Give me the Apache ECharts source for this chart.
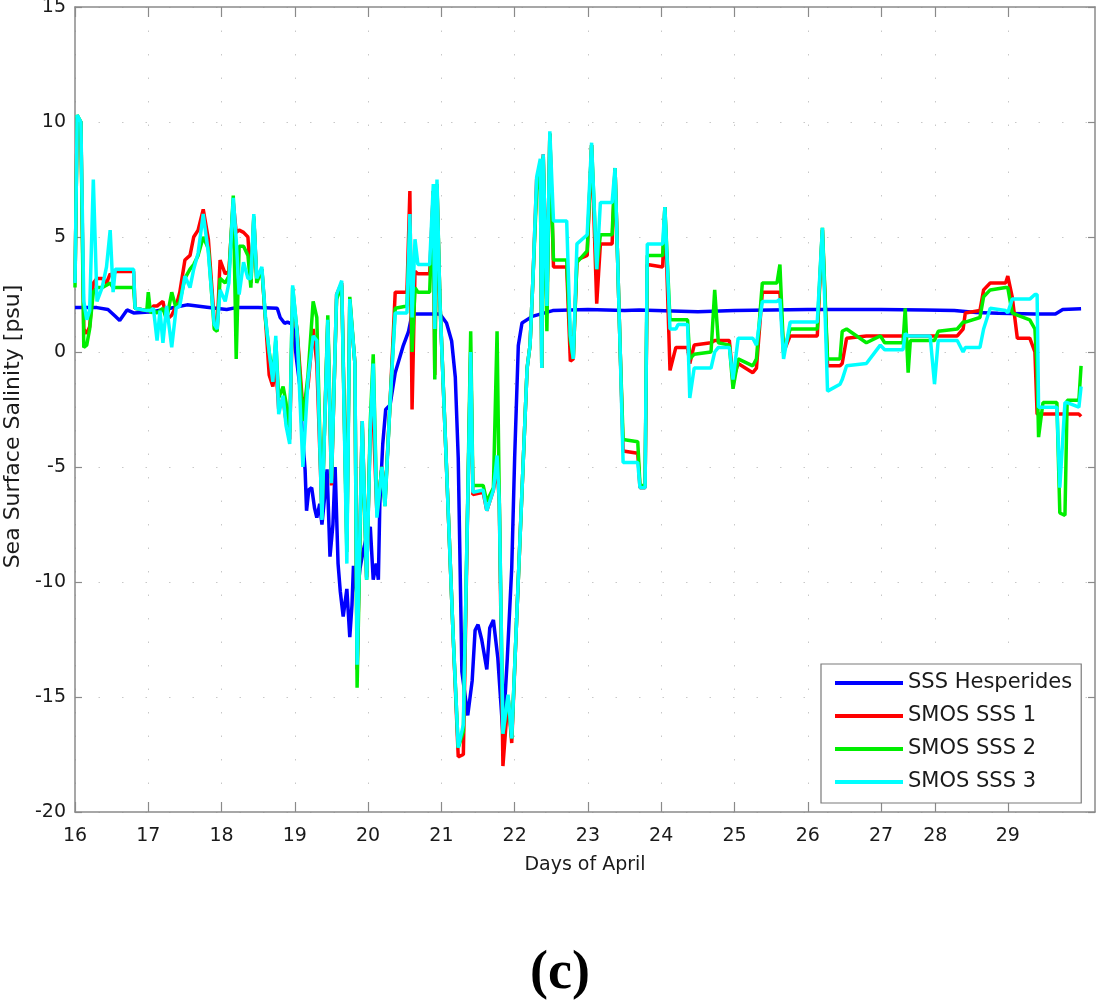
<!DOCTYPE html>
<html>
<head>
<meta charset="utf-8">
<script src="https://cdn.jsdelivr.net/npm/echarts@6/dist/echarts.min.js"></script>
<style>
html,body{margin:0;padding:0;background:#fff;}
#chart{width:1097px;height:1000px;}
</style>
</head>
<body>
<div id="chart"></div>
<script>
// ---- Data (days of April, salinity anomaly in psu) ----
const xTickValues = [16,17,18,19,20,21,22,23,24,25,26,27,27.74,28.73];
const xTickLabels = ['16','17','18','19','20','21','22','23','24','25','26','27','28','29'];

const hespDays = [16.00,16.30,16.45,16.55,16.61,16.66,16.71,16.80,17.06,17.30,17.53,17.80,18.07,18.20,18.50,18.76,18.80,18.86,18.90,18.97,
  19.03,19.07,19.10,19.14,19.16,19.19,19.23,19.27,19.30,19.34,19.37,19.41,19.44,19.48,19.52,19.55,19.59,19.62,19.66,19.71,19.75,19.78,19.80,19.85,19.89,19.93,19.98,20.03,20.07,20.11,20.14,20.16,20.20,20.24,20.30,20.37,20.48,20.55,20.60,20.98,
  21.07,21.14,21.19,21.23,21.28,21.36,21.42,21.46,21.50,21.55,21.62,21.66,21.71,21.77,21.84,21.90,21.96,22.00,22.05,22.10,22.24,22.52,
  23.00,23.50,23.70,24.50,25.00,26.00,27.00,27.60,28.00,28.30,28.60,29.10,29.38,29.48,29.73];
const hespSss = [1.93,1.93,1.85,1.55,1.37,1.60,1.83,1.70,1.75,1.90,2.05,1.95,1.85,1.93,1.93,1.90,1.50,1.25,1.30,1.20,
  -0.50,-1.50,-3.5,-5.1,-6.9,-6.0,-5.9,-6.8,-7.2,-6.6,-7.5,-6.2,-5.1,-8.9,-7.5,-5.0,-9.2,-10.4,-11.5,-10.3,-12.4,-11.0,-9.3,-10.6,-9.4,-8.7,-8.0,-7.6,-9.9,-9.2,-9.9,-6.6,-4.0,-2.5,-2.3,-0.9,0.28,0.87,1.65,1.65,
  1.26,0.48,-1.1,-4.6,-13.9,-15.8,-14.3,-12.1,-11.85,-12.5,-13.8,-12.0,-11.65,-13.3,-16.6,-13.3,-9.4,-4.6,0.28,1.26,1.55,1.80,
  1.85,1.80,1.83,1.75,1.80,1.85,1.85,1.83,1.80,1.72,1.68,1.65,1.65,1.85,1.88];

const smosDays = [16.00,16.03,16.08,16.12,16.16,16.20,16.25,16.30,16.37,16.43,16.48,16.52,16.55,16.80,16.82,16.98,17.00,17.03,17.07,17.12,17.16,17.20,17.25,17.32,17.38,17.43,17.50,17.57,17.62,17.68,17.75,17.82,17.90,17.94,17.98,18.05,18.10,18.16,18.20,18.24,18.30,18.36,18.40,18.44,18.48,18.55,18.60,18.65,18.70,18.74,18.78,18.84,18.88,18.93,18.97,
  19.03,19.11,19.18,19.25,19.30,19.37,19.45,19.50,19.57,19.64,19.71,19.75,19.82,19.85,19.92,19.98,20.03,20.07,20.12,20.19,20.23,20.30,20.37,20.53,20.57,20.60,20.64,20.68,20.84,20.89,20.91,20.94,20.98,
  21.16,21.23,21.30,21.36,21.40,21.43,21.57,21.62,21.71,21.76,21.79,21.84,21.91,21.96,22.03,22.17,22.21,22.25,22.30,22.35,22.37,22.39,22.44,22.48,22.53,22.71,22.76,22.80,22.85,22.99,
  23.05,23.12,23.17,23.33,23.37,23.44,23.48,23.68,23.71,23.78,23.81,24.02,24.05,24.12,24.20,24.23,24.36,24.39,24.45,24.68,24.73,24.78,24.93,24.98,
  25.05,25.25,25.30,25.38,25.58,25.62,25.67,25.76,26.13,26.20,26.27,26.44,26.47,26.53,26.80,26.99,27.05,27.30,27.33,27.37,27.40,27.67,27.73,27.78,
  28.04,28.12,28.15,28.35,28.40,28.49,28.70,28.73,28.79,28.86,29.03,29.10,29.13,29.15,29.21,29.40,29.44,29.51,29.54,29.70,29.73];
const smos1 = [3.0,10.2,10.0,1.0,0.8,1.1,3.0,3.2,3.2,3.0,3.4,3.3,3.5,3.5,1.9,1.8,1.8,1.8,2.0,2.0,2.1,2.2,1.4,1.6,2.0,2.6,4.0,4.2,5.0,5.3,6.2,4.9,1.4,1.0,4.0,3.4,3.5,6.5,5.2,5.3,5.2,5.0,3.0,5.8,3.2,3.6,1.4,-1.0,-1.5,-0.5,-2.5,-2.0,-3.0,-3.8,2.0,
  1.0,-2.5,-1.5,1.0,-0.5,-7.0,1.3,-5.8,2.5,3.0,-8.2,2.2,-0.5,-13.8,-3.0,-9.8,-3.4,-2.8,-7.0,-5.0,-6.5,-2.2,2.6,2.6,7.0,-2.5,3.5,3.4,3.4,7.0,-1.0,7.2,2.2,
  -12.3,-17.6,-17.5,-6.5,0.0,-6.2,-6.1,-6.9,-6.0,-5.0,-6.5,-18.0,-15.0,-17.0,-11.4,-0.7,0.3,3.2,7.5,8.0,-0.7,8.6,2.0,9.5,3.7,3.7,-0.4,-0.3,4.0,4.2,
  9.0,2.1,4.7,4.7,8.0,0.1,-4.3,-4.4,-5.9,-5.9,3.8,3.7,6.3,-0.8,0.2,0.2,0.2,-0.5,0.3,0.4,0.5,0.5,0.5,-1.2,
  -0.5,-0.9,-0.7,2.6,2.6,2.6,0.0,0.7,0.7,5.3,-0.6,-0.6,-0.5,0.6,0.7,0.7,0.7,0.7,0.7,0.7,0.7,0.7,0.7,0.7,
  0.7,1.0,1.7,1.8,2.7,3.0,3.0,3.3,2.4,0.6,0.6,0.0,-2.7,-2.7,-2.7,-2.7,-2.7,-2.7,-2.7,-2.7,-2.8];
const smos2 = [2.8,10.3,10.0,0.2,0.3,1.0,2.6,2.8,2.8,2.9,3.0,2.8,2.8,2.8,1.9,1.8,2.6,1.7,1.8,1.7,1.8,1.9,1.4,2.6,1.9,2.2,3.2,3.6,3.8,4.2,5.0,4.5,1.0,0.9,3.2,3.0,3.3,6.8,-0.3,4.6,4.6,4.2,2.8,5.9,3.0,3.6,1.4,0.0,-1.0,0.5,-2.0,-1.5,-2.2,-3.5,2.8,
  0.9,-3.0,-1.0,2.2,1.5,-7.2,1.6,-5.5,2.3,2.9,-8.7,2.4,-0.5,-14.6,-3.2,-9.9,-3.0,-0.1,-7.0,-5.0,-6.7,-2.2,1.9,2.0,5.5,0.0,2.8,2.6,2.6,7.0,-1.2,7.3,2.3,
  -12.3,-17.2,-16.5,-6.3,0.9,-5.8,-5.8,-6.5,-5.9,0.9,-6.3,-16.6,-15.0,-16.8,-11.4,-0.7,0.3,3.2,7.0,8.2,-0.7,8.5,0.9,9.5,4.0,4.0,0.5,-0.3,3.9,4.4,
  9.0,3.6,5.1,5.1,8.0,0.1,-3.8,-3.9,-5.8,-5.8,4.2,4.2,6.3,1.4,1.4,1.4,1.4,-0.3,-0.1,0.0,2.7,0.4,0.3,-1.6,
  -0.3,-0.6,-0.3,3.0,3.0,3.8,0.0,1.0,1.0,5.4,-0.3,-0.3,0.9,1.0,0.4,0.7,0.4,0.4,1.9,-0.9,0.5,0.5,0.5,0.9,
  1.0,1.3,1.3,1.5,2.4,2.7,2.8,2.8,1.7,1.6,1.4,1.0,-0.8,-3.7,-2.2,-2.2,-7.0,-7.1,-2.1,-2.1,-0.6];
const smos3 = [3.0,10.3,10.0,2.2,1.4,1.8,7.5,2.2,2.8,3.7,5.3,2.6,3.6,3.6,1.9,1.8,1.8,1.8,1.9,0.5,1.8,0.4,2.0,0.2,1.9,2.0,3.3,2.8,3.6,4.3,6.0,4.3,1.2,1.0,2.7,2.2,3.0,6.7,4.9,2.5,3.9,3.2,3.2,6.0,3.2,3.7,1.5,0.0,-1.3,0.7,-2.7,-1.9,-3.2,-4.0,2.9,
  0.9,-5.0,-1.2,0.7,0.5,-7.3,1.4,-5.7,2.5,3.1,-9.2,2.3,-0.5,-13.6,-3.0,-9.9,-3.4,-0.5,-7.2,-5.0,-6.7,-2.2,1.7,1.7,6.0,1.5,4.9,3.8,3.8,7.3,1.0,7.5,2.2,
  -12.3,-17.2,-16.2,-6.5,0.0,-6.1,-6.0,-6.9,-6.0,-4.5,-6.5,-16.6,-14.9,-16.8,-11.4,-0.7,0.3,3.2,7.6,8.4,-0.7,8.6,2.0,9.6,5.7,5.7,0.7,-0.3,4.7,5.1,
  9.1,3.6,6.5,6.5,8.0,0.1,-4.8,-4.8,-5.9,-5.9,4.7,4.7,6.3,1.0,1.0,1.2,1.2,-2.0,-0.7,-0.7,0.0,0.2,0.2,-1.2,
  0.6,0.6,0.3,2.2,2.2,2.3,-0.3,1.3,1.3,5.4,-1.7,-1.4,-1.2,-0.6,-0.5,0.3,0.1,0.1,0.8,0.7,0.7,0.7,-1.4,0.5,
  0.5,0.0,0.2,0.2,1.0,1.9,1.8,1.7,2.3,2.3,2.3,2.5,2.5,-2.4,-2.4,-2.4,-5.9,-2.2,-2.2,-2.4,-1.5];

const seriesNames = ['SSS Hesperides','SMOS SSS 1','SMOS SSS 2','SMOS SSS 3'];
const seriesColors = ['#0000ff','#ff0000','#00ee00','#00ffff'];

// ---- Build ----
const pairs = (xs, ys) => xs.map((x, i) => [x, ys[i]]);
const font = 'DejaVu Sans';
const textColor = '#1a1a1a';
const boxColor = '#8a8a8a';
const gridStyle = {color: '#c8c8c8', width: 1, type: [1.5, 22]};

const chart = echarts.init(document.getElementById('chart'), null, {renderer: 'canvas'});

const xBase = {
  type: 'value', min: 16, max: 29.92,
  axisLine: {show: true, onZero: false, lineStyle: {color: boxColor, width: 1.5}},
  axisTick: {show: true, inside: true, length: 10, customValues: xTickValues, lineStyle: {color: boxColor, width: 1.2}},
};
const yBase = {
  type: 'value', min: -20, max: 15, interval: 5,
  axisLine: {show: true, onZero: false, lineStyle: {color: boxColor, width: 1.5}},
  axisTick: {show: true, inside: true, length: 7, lineStyle: {color: boxColor, width: 1.2}},
};

chart.setOption({
  animation: false,
  backgroundColor: '#ffffff',
  grid: {left: 75, right: 2, top: 7, bottom: 188, containLabel: false, outerBoundsMode: 'none'},
  xAxis: [
    Object.assign({}, xBase, {
      position: 'bottom',
      name: 'Days of April', nameLocation: 'middle', nameGap: 44,
      nameTextStyle: {fontFamily: font, fontSize: 19, color: textColor},
      axisLabel: {show: true, customValues: xTickValues, margin: 15, fontFamily: font, fontSize: 19, color: textColor,
        formatter: (v) => { const i = xTickValues.findIndex(t => Math.abs(t - v) < 1e-6); return i >= 0 ? xTickLabels[i] : ''; }},
      splitLine: {show: true, lineStyle: gridStyle}
    }),
    Object.assign({}, xBase, {position: 'top', axisLabel: {show: false}, splitLine: {show: false}})
  ],
  yAxis: [
    Object.assign({}, yBase, {
      position: 'left',
      name: 'Sea Surface Salinity [psu]', nameLocation: 'middle', nameGap: 50, nameRotate: 90,
      nameTextStyle: {fontFamily: font, fontSize: 22, color: textColor, padding: [0, 34, 0, 0]},
      axisLabel: {show: true, margin: 9, fontFamily: font, fontSize: 19, color: textColor},
      splitLine: {show: true, lineStyle: gridStyle}
    }),
    Object.assign({}, yBase, {position: 'right', axisLabel: {show: false}, splitLine: {show: false}})
  ],
  legend: {
    show: true, orient: 'vertical', left: 821, top: 664,
    data: seriesNames,
    icon: 'rect', itemWidth: 68, itemHeight: 4, itemGap: 11,
    padding: [8, 9, 10, 14],
    backgroundColor: '#ffffff', borderColor: '#7a7a7a', borderWidth: 1.2,
    textStyle: {fontFamily: font, fontSize: 21, color: textColor, lineHeight: 22}
  },
  series: [
    {name: seriesNames[0], type: 'line', data: pairs(hespDays, hespSss)},
    {name: seriesNames[1], type: 'line', data: pairs(smosDays, smos1)},
    {name: seriesNames[2], type: 'line', data: pairs(smosDays, smos2)},
    {name: seriesNames[3], type: 'line', data: pairs(smosDays, smos3)}
  ].map((s, i) => Object.assign(s, {
    showSymbol: false, symbol: 'none', smooth: false,
    color: seriesColors[i],
    lineStyle: {color: seriesColors[i], width: 3.5},
    z: 2 + i
  })),
  graphic: [{
    type: 'text', x: 560, y: 974,
    style: {text: '(c)', fontFamily: 'Liberation Serif', fontWeight: 'bold', fontSize: 54, fill: '#000', align: 'center', verticalAlign: 'middle'}
  }]
});
</script>
</body>
</html>
